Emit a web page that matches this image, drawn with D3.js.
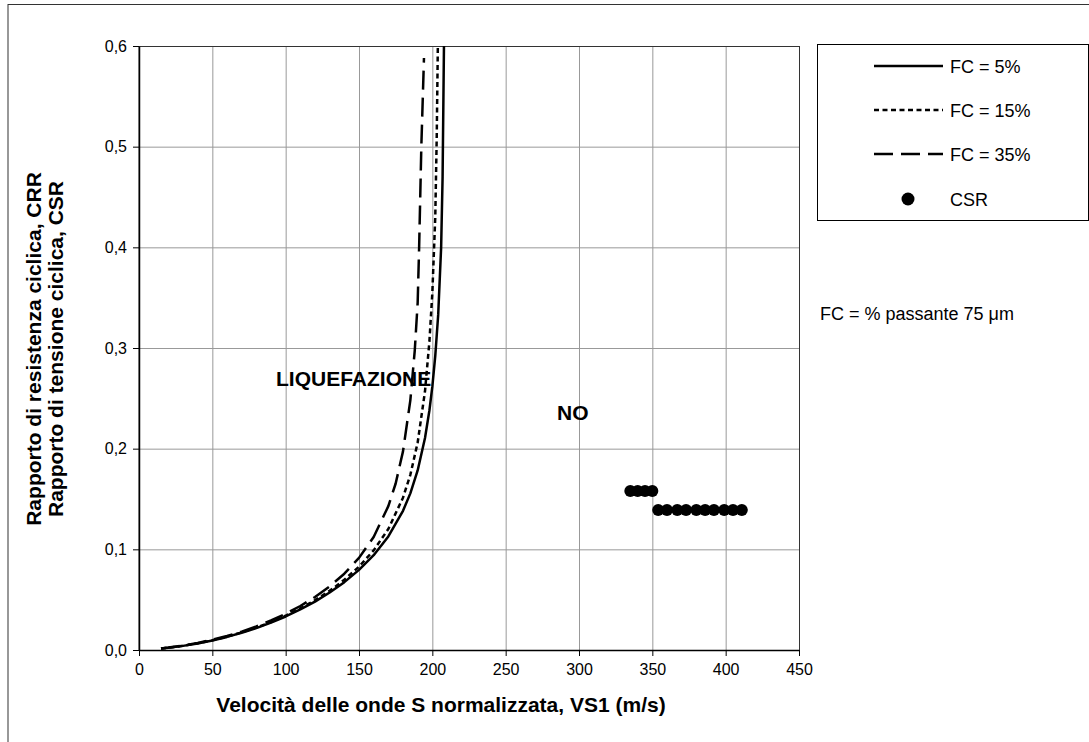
<!DOCTYPE html>
<html>
<head>
<meta charset="utf-8">
<script src="https://cdn.jsdelivr.net/npm/d3@7.9.0/dist/d3.min.js"></script>
<style>
  html, body { margin: 0; padding: 0; background: #fff; }
  svg { display: block; font-family: 'Liberation Sans', Arial, sans-serif; }
</style>
</head>
<body>
<svg id="chart" width="1089" height="742"></svg>
<script>
// tick values and labels
const xTicks = [0, 50, 100, 150, 200, 250, 300, 350, 400, 450];
const yTicks = [0, 0.1, 0.2, 0.3, 0.4, 0.5, 0.6];
const yTickLabels = ['0,0', '0,1', '0,2', '0,3', '0,4', '0,5', '0,6'];

// CRR curves, [VS1, CRR]
const fc5 = [
  [15, 0.0015], [20, 0.0022], [30, 0.0041], [40, 0.0065], [50, 0.0095],
  [60, 0.013], [70, 0.0171], [80, 0.0218], [90, 0.0272], [100, 0.0333],
  [110, 0.0403], [120, 0.0481], [130, 0.0571], [140, 0.0674], [150, 0.0796],
  [160, 0.0942], [170, 0.1128], [180, 0.1383], [185, 0.1556], [190, 0.1784],
  [195, 0.2106], [198, 0.2379], [200, 0.2616], [202, 0.2921], [204, 0.3331],
  [206, 0.40], [207, 0.47], [208, 0.61], [209, 0.70]
];
const fc15 = [
  [15, 0.0015], [20, 0.0023], [30, 0.0042], [40, 0.0067], [50, 0.0097],
  [60, 0.0133], [70, 0.0175], [80, 0.0223], [90, 0.0278], [100, 0.0341],
  [110, 0.0413], [120, 0.0495], [130, 0.0588], [140, 0.0698], [150, 0.0828],
  [160, 0.099], [170, 0.1202], [180, 0.1513], [185, 0.174], [190, 0.2061],
  [195, 0.257], [198, 0.3063], [200, 0.3547], [202, 0.43], [203, 0.51],
  [204, 0.63], [205, 0.72]
];
const fc35 = [
  [15, 0.0016], [20, 0.0024], [30, 0.0044], [40, 0.007], [50, 0.0102],
  [60, 0.0139], [70, 0.0183], [80, 0.0234], [90, 0.0293], [100, 0.036],
  [110, 0.0437], [120, 0.0527], [130, 0.0632], [140, 0.0758], [150, 0.0915],
  [160, 0.1123], [170, 0.1429], [175, 0.1654], [180, 0.1973], [185, 0.248],
  [188, 0.2971], [190, 0.345], [191, 0.40], [192.5, 0.50], [194.3, 0.588]
];

// CSR points, [VS1, CSR]
const csr = [
  [335, 0.158], [340, 0.158], [345, 0.158], [350, 0.158],
  [354, 0.139], [360, 0.139], [367, 0.139], [373, 0.139], [380, 0.139],
  [386, 0.139], [392, 0.139], [399, 0.139], [405, 0.139], [411, 0.139]
];

const series = [
  { name: 'FC = 5%', data: fc5, dash: null },
  { name: 'FC = 15%', data: fc15, dash: '5,3.5' },
  { name: 'FC = 35%', data: fc35, dash: '19,8' }
];

const svg = d3.select('#chart');
const plot = { left: 139, right: 799, top: 46, bottom: 650 };

const xScale = d3.scaleLinear().domain([0, 450]).range([plot.left, plot.right]);
const yScale = d3.scaleLinear().domain([0, 0.6]).range([plot.bottom, plot.top]);

svg.append('rect').attr('width', 1089).attr('height', 742).attr('fill', '#fff');

// outer frame
svg.append('rect')
  .attr('x', 8).attr('y', 4.5).attr('width', 1200).attr('height', 1000)
  .attr('fill', 'none').attr('stroke', '#333');

// gridlines
svg.append('g')
  .attr('transform', `translate(0,${plot.bottom})`)
  .call(d3.axisBottom(xScale).tickValues(xTicks).tickFormat('').tickSize(-(plot.bottom - plot.top)))
  .call(g => g.select('.domain').remove())
  .selectAll('line').attr('stroke', '#999');

svg.append('g')
  .attr('transform', `translate(${plot.left},0)`)
  .call(d3.axisLeft(yScale).tickValues(yTicks).tickFormat('').tickSize(-(plot.right - plot.left)))
  .call(g => g.select('.domain').remove())
  .selectAll('line').attr('stroke', '#999');

// plot frame
svg.append('rect')
  .attr('x', plot.left).attr('y', plot.top + 0.5)
  .attr('width', plot.right - plot.left + 0.5).attr('height', plot.bottom - plot.top)
  .attr('fill', 'none').attr('stroke', '#333');

// axes
const xAxis = svg.append('g')
  .attr('transform', `translate(0,${plot.bottom})`)
  .call(d3.axisBottom(xScale).tickValues(xTicks).tickSize(6).tickPadding(8).tickSizeOuter(0));
const yAxis = svg.append('g')
  .attr('transform', `translate(${plot.left},0)`)
  .call(d3.axisLeft(yScale).tickValues(yTicks).tickSize(6).tickPadding(6).tickSizeOuter(0)
    .tickFormat((d, i) => yTickLabels[i]));

[xAxis, yAxis].forEach(g => {
  g.attr('font-family', null).attr('font-size', null);
  g.selectAll('text').attr('font-size', 16).attr('fill', '#000');
  g.select('.domain').attr('stroke', '#000').attr('stroke-width', 1.5);
  g.selectAll('line').attr('stroke', '#000');
});

// clip
svg.append('clipPath').attr('id', 'clip')
  .append('rect')
  .attr('x', plot.left).attr('y', plot.top)
  .attr('width', plot.right - plot.left).attr('height', plot.bottom - plot.top);

const line = d3.line().x(d => xScale(d[0])).y(d => yScale(d[1]));

svg.append('g').attr('clip-path', 'url(#clip)')
  .selectAll('path')
  .data(series)
  .join('path')
  .attr('d', d => line(d.data))
  .attr('fill', 'none')
  .attr('stroke', '#000')
  .attr('stroke-width', 2.5)
  .attr('stroke-linejoin', 'round')
  .attr('stroke-dasharray', d => d.dash);

svg.append('g')
  .selectAll('circle')
  .data(csr)
  .join('circle')
  .attr('cx', d => xScale(d[0]))
  .attr('cy', d => yScale(d[1]))
  .attr('r', 6)
  .attr('fill', '#000');

// annotations
svg.append('text')
  .attr('x', xScale(93.4)).attr('y', yScale(0.262))
  .attr('font-size', 21).attr('font-weight', 'bold')
  .text('LIQUEFAZIONE');
svg.append('text')
  .attr('x', xScale(285)).attr('y', yScale(0.228))
  .attr('font-size', 21).attr('font-weight', 'bold')
  .text('NO');

// axis titles
svg.append('text')
  .attr('x', 441).attr('y', 712)
  .attr('text-anchor', 'middle')
  .attr('font-size', 21).attr('font-weight', 'bold')
  .text('Velocità delle onde S normalizzata, VS1 (m/s)');

const yTitle = svg.append('text')
  .attr('transform', 'translate(0,349) rotate(-90)')
  .attr('text-anchor', 'middle')
  .attr('font-size', 21).attr('font-weight', 'bold');
yTitle.append('tspan').attr('x', 0).attr('y', 41).text('Rapporto di resistenza ciclica, CRR');
yTitle.append('tspan').attr('x', 0).attr('y', 63).text('Rapporto di tensione ciclica, CSR');

// legend
const legend = svg.append('g');
legend.append('rect')
  .attr('x', 817.5).attr('y', 44.5).attr('width', 271).attr('height', 176)
  .attr('fill', '#fff').attr('stroke', '#000');

const rowY = [66, 110, 154, 199];
series.forEach((s, i) => {
  legend.append('line')
    .attr('x1', 874).attr('x2', 943)
    .attr('y1', rowY[i]).attr('y2', rowY[i])
    .attr('stroke', '#000').attr('stroke-width', 2.5)
    .attr('stroke-dasharray', s.dash);
  legend.append('text')
    .attr('x', 950).attr('y', rowY[i] + 7)
    .attr('font-size', 18)
    .text(s.name);
});
legend.append('circle').attr('cx', 908).attr('cy', rowY[3]).attr('r', 6.5).attr('fill', '#000');
legend.append('text').attr('x', 950).attr('y', rowY[3] + 7).attr('font-size', 18).text('CSR');

svg.append('text')
  .attr('x', 820).attr('y', 320)
  .attr('font-size', 18)
  .text('FC = % passante 75 μm');
</script>
</body>
</html>
